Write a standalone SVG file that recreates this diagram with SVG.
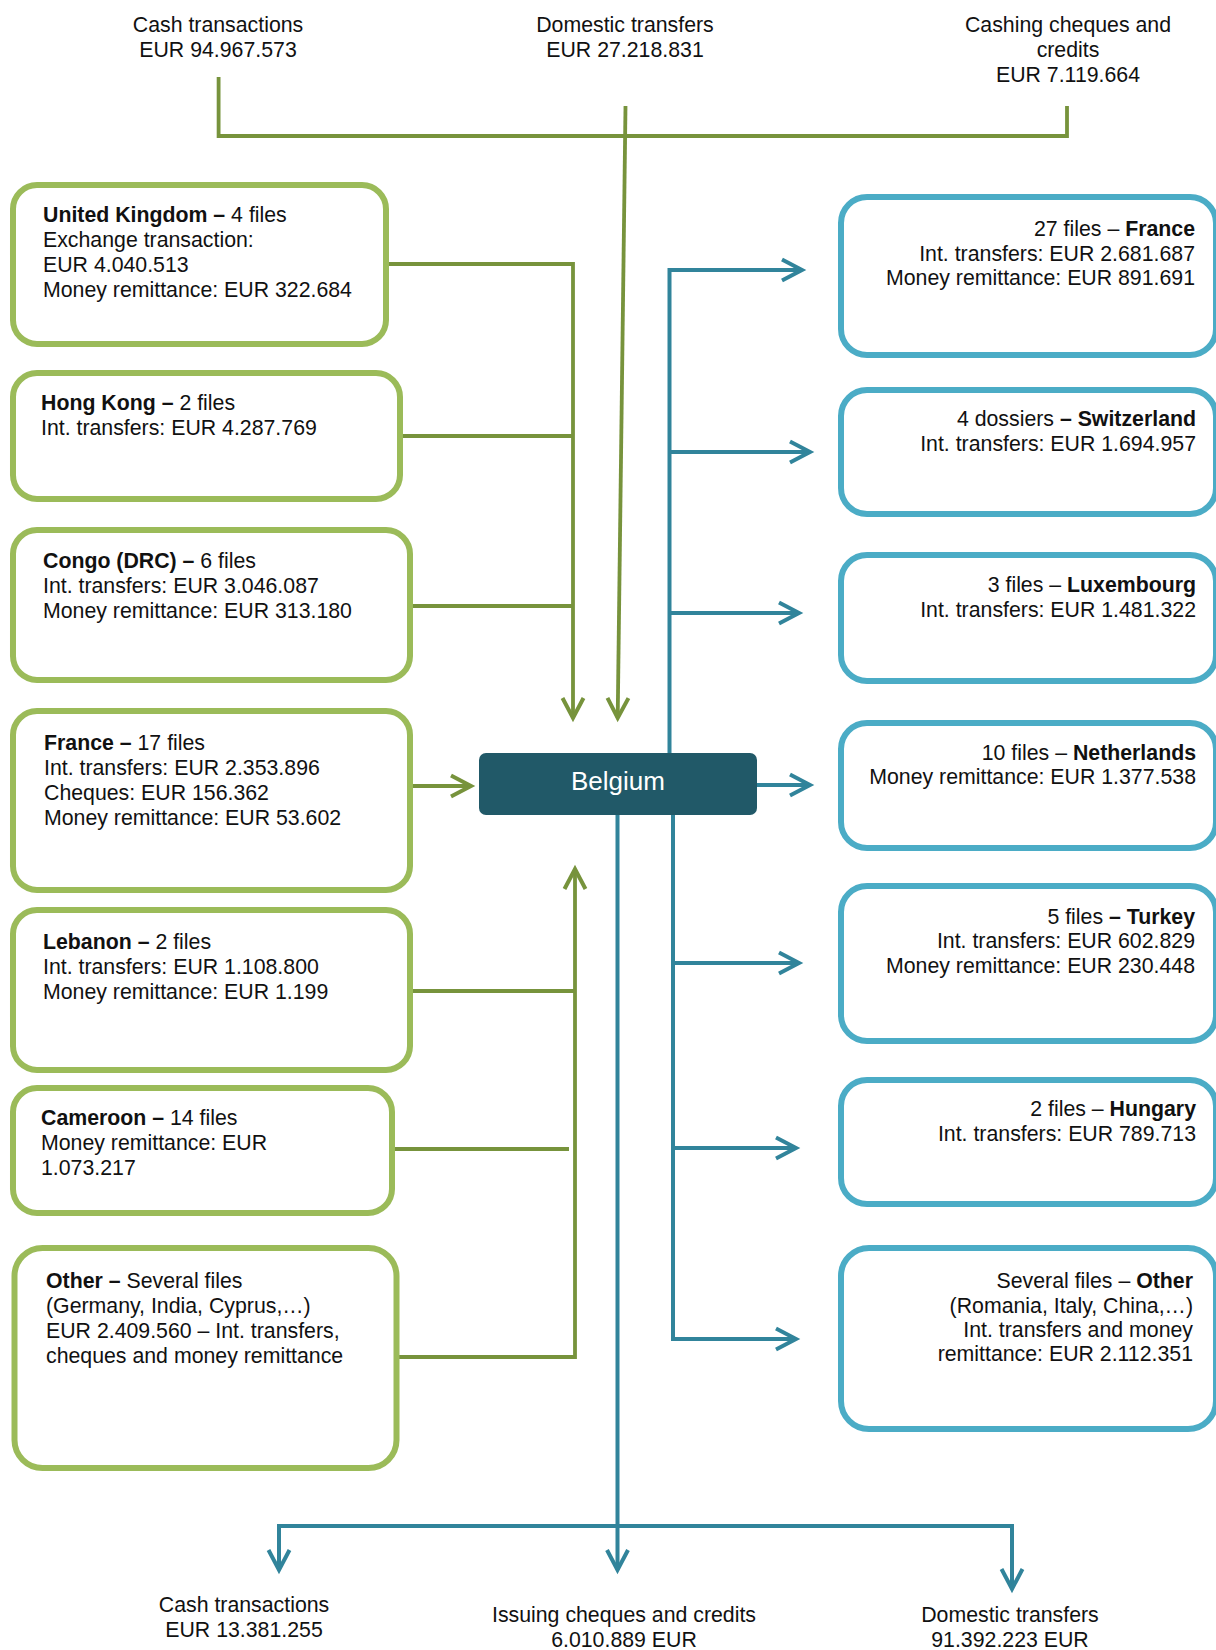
<svg xmlns="http://www.w3.org/2000/svg" width="1216" height="1650" viewBox="0 0 1216 1650">
<style>
text{font-family:"Liberation Sans",Arial,sans-serif;font-size:21.3px;fill:#111}
.b{font-weight:bold}
.gbox{fill:#fff;stroke:#9BBB59;stroke-width:6}
.bbox{fill:#fff;stroke:#4BACC6;stroke-width:6}
.gl{fill:none;stroke:#77933C;stroke-width:3.8}
.bl{fill:none;stroke:#31849B;stroke-width:4}
.r{text-anchor:end}
.c{text-anchor:middle}
</style>
<defs>
<marker id="ag" markerUnits="userSpaceOnUse" markerWidth="30" markerHeight="30" viewBox="-24 -15 30 30" refX="0" refY="0" orient="auto">
<path d="M-20,-10.5 L0,0 L-20,10.5" fill="none" stroke="#77933C" stroke-width="4"/>
</marker>
<marker id="ab" markerUnits="userSpaceOnUse" markerWidth="30" markerHeight="30" viewBox="-24 -15 30 30" refX="0" refY="0" orient="auto">
<path d="M-20,-10.5 L0,0 L-20,10.5" fill="none" stroke="#31849B" stroke-width="4"/>
</marker>
</defs>

<g id="connectors">
<path class="gl" d="M218.6,77 V136 H1067 V106"/>
<path class="gl" d="M625.5,106 L617.7,718" marker-end="url(#ag)"/>
<path class="gl" d="M389,264 H573 V718" marker-end="url(#ag)"/>
<path class="gl" d="M403,436 H573"/>
<path class="gl" d="M413,606 H573"/>
<path class="gl" d="M413,786 H471" marker-end="url(#ag)"/>
<path class="gl" d="M413,991 H575"/>
<path class="gl" d="M395,1149 H569"/>
<path class="gl" d="M399,1357 H575 V869" marker-end="url(#ag)"/>

<path class="bl" d="M669.5,753 V270 H802" marker-end="url(#ab)"/>
<path class="bl" d="M669.5,452 H810" marker-end="url(#ab)"/>
<path class="bl" d="M669.5,613 H799" marker-end="url(#ab)"/>
<path class="bl" d="M757,785 H810" marker-end="url(#ab)"/>
<path class="bl" d="M673,815 V1339 H796" marker-end="url(#ab)"/>
<path class="bl" d="M673,963 H799" marker-end="url(#ab)"/>
<path class="bl" d="M673,1148 H796" marker-end="url(#ab)"/>
<path class="bl" d="M617.5,815 V1570" marker-end="url(#ab)"/>
<path class="bl" d="M617.5,1526 H279 V1570" marker-end="url(#ab)"/>
<path class="bl" d="M617.5,1526 H1012 V1589" marker-end="url(#ab)"/>
</g>

<g id="top-cash">
<text class="c" x="218" y="32">Cash transactions</text>
<text class="c" x="218" y="57">EUR 94.967.573</text>
</g>
<g id="top-domestic">
<text class="c" x="625" y="32">Domestic transfers</text>
<text class="c" x="625" y="57">EUR 27.218.831</text>
</g>
<g id="top-cashing">
<text class="c" x="1068" y="32">Cashing cheques and</text>
<text class="c" x="1068" y="57">credits</text>
<text class="c" x="1068" y="82">EUR 7.119.664</text>
</g>

<g id="uk">
<rect class="gbox" x="13" y="185" width="373" height="159" rx="24"/>
<text x="43" y="222"><tspan class="b">United Kingdom –</tspan> 4 files</text>
<text x="43" y="247">Exchange transaction:</text>
<text x="43" y="272">EUR 4.040.513</text>
<text x="43" y="297">Money remittance: EUR 322.684</text>
</g>
<g id="hongkong">
<rect class="gbox" x="13" y="373" width="387" height="126" rx="24"/>
<text x="41" y="410"><tspan class="b">Hong Kong –</tspan> 2 files</text>
<text x="41" y="435">Int. transfers: EUR 4.287.769</text>
</g>
<g id="congo">
<rect class="gbox" x="13" y="530" width="397" height="150" rx="24"/>
<text x="43" y="568"><tspan class="b">Congo (DRC) –</tspan> 6 files</text>
<text x="43" y="593">Int. transfers: EUR 3.046.087</text>
<text x="43" y="618">Money remittance: EUR 313.180</text>
</g>
<g id="france-left">
<rect class="gbox" x="13" y="711" width="397" height="179" rx="24"/>
<text x="44" y="750"><tspan class="b">France –</tspan> 17 files</text>
<text x="44" y="775">Int. transfers: EUR 2.353.896</text>
<text x="44" y="800">Cheques: EUR 156.362</text>
<text x="44" y="825">Money remittance: EUR 53.602</text>
</g>
<g id="lebanon">
<rect class="gbox" x="13" y="910" width="397" height="160" rx="24"/>
<text x="43" y="949"><tspan class="b">Lebanon –</tspan> 2 files</text>
<text x="43" y="974">Int. transfers: EUR 1.108.800</text>
<text x="43" y="999">Money remittance: EUR 1.199</text>
</g>
<g id="cameroon">
<rect class="gbox" x="13" y="1088" width="379" height="125" rx="24"/>
<text x="41" y="1125"><tspan class="b">Cameroon –</tspan> 14 files</text>
<text x="41" y="1150">Money remittance: EUR</text>
<text x="41" y="1175">1.073.217</text>
</g>
<g id="other-left">
<rect class="gbox" x="14.5" y="1248" width="382" height="220" rx="28"/>
<text x="46" y="1288"><tspan class="b">Other –</tspan> Several files</text>
<text x="46" y="1313">(Germany, India, Cyprus,…)</text>
<text x="46" y="1338">EUR 2.409.560 – Int. transfers,</text>
<text x="46" y="1363">cheques and money remittance</text>
</g>

<g id="belgium">
<rect x="479" y="753" width="278" height="62" rx="7" fill="#215968"/>
<text class="c" x="618" y="790" style="font-size:26px;fill:#fff">Belgium</text>
</g>

<g id="france-right">
<rect class="bbox" x="841" y="197" width="375" height="158" rx="26"/>
<text class="r" x="1195" y="236">27 files – <tspan class="b">France</tspan></text>
<text class="r" x="1195" y="261">Int. transfers: EUR 2.681.687</text>
<text class="r" x="1195" y="285">Money remittance: EUR 891.691</text>
</g>
<g id="switzerland">
<rect class="bbox" x="841" y="390" width="375" height="124" rx="26"/>
<text class="r" x="1196" y="426">4 dossiers <tspan class="b">– Switzerland</tspan></text>
<text class="r" x="1196" y="451">Int. transfers: EUR 1.694.957</text>
</g>
<g id="luxembourg">
<rect class="bbox" x="841" y="555" width="375" height="126" rx="26"/>
<text class="r" x="1196" y="592">3 files – <tspan class="b">Luxembourg</tspan></text>
<text class="r" x="1196" y="617">Int. transfers: EUR 1.481.322</text>
</g>
<g id="netherlands">
<rect class="bbox" x="841" y="723" width="375" height="125" rx="26"/>
<text class="r" x="1196" y="760">10 files – <tspan class="b">Netherlands</tspan></text>
<text class="r" x="1196" y="784">Money remittance: EUR 1.377.538</text>
</g>
<g id="turkey">
<rect class="bbox" x="841" y="886" width="375" height="155" rx="26"/>
<text class="r" x="1195" y="924">5 files <tspan class="b">– Turkey</tspan></text>
<text class="r" x="1195" y="948">Int. transfers: EUR 602.829</text>
<text class="r" x="1195" y="973">Money remittance: EUR 230.448</text>
</g>
<g id="hungary">
<rect class="bbox" x="841" y="1080" width="375" height="124" rx="26"/>
<text class="r" x="1196" y="1116">2 files – <tspan class="b">Hungary</tspan></text>
<text class="r" x="1196" y="1141">Int. transfers: EUR 789.713</text>
</g>
<g id="other-right">
<rect class="bbox" x="841" y="1248" width="375" height="181" rx="28"/>
<text class="r" x="1193" y="1288">Several files – <tspan class="b">Other</tspan></text>
<text class="r" x="1193" y="1313">(Romania, Italy, China,…)</text>
<text class="r" x="1193" y="1337">Int. transfers and money</text>
<text class="r" x="1193" y="1361">remittance: EUR 2.112.351</text>
</g>

<g id="bottom-cash">
<text class="c" x="244" y="1612">Cash transactions</text>
<text class="c" x="244" y="1637">EUR 13.381.255</text>
</g>
<g id="bottom-issuing">
<text class="c" x="624" y="1622">Issuing cheques and credits</text>
<text class="c" x="624" y="1647">6.010.889 EUR</text>
</g>
<g id="bottom-domestic">
<text class="c" x="1010" y="1622">Domestic transfers</text>
<text class="c" x="1010" y="1647">91.392.223 EUR</text>
</g>
</svg>
